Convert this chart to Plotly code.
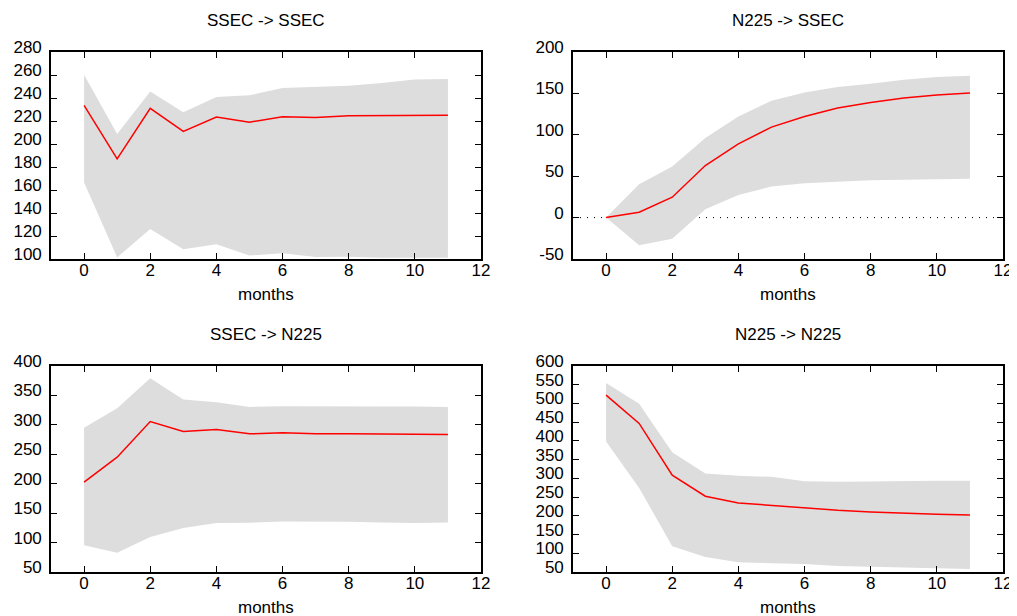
import plotly.graph_objects as go

# ---------------- data ----------------
months = list(range(12))

titles = ["SSEC -> SSEC", "N225 -> SSEC", "SSEC -> N225", "N225 -> N225"]
x_label = "months"

ssec_ssec_mid = [233.5, 187.0, 231.0, 211.0, 223.4, 219.0, 223.7, 223.0, 224.5, 224.5, 225.0, 225.0]
ssec_ssec_hi = [260.3, 208.6, 245.7, 227.5, 240.8, 242.3, 248.6, 249.8, 250.7, 253.0, 256.0, 256.5]
ssec_ssec_lo = [166.5, 101.4, 126.0, 108.4, 112.8, 103.0, 105.0, 101.7, 102.0, 101.0, 101.0, 101.0]

n225_ssec_mid = [0.0, 6.5, 24.6, 62.9, 89.1, 109.3, 122.2, 132.3, 139.1, 144.4, 148.0, 150.4]
n225_ssec_hi = [0.0, 40.3, 61.7, 96.0, 122.2, 141.0, 151.2, 157.7, 161.7, 166.5, 169.8, 171.4]
n225_ssec_lo = [0.0, -33.5, -25.4, 10.1, 27.4, 37.5, 41.5, 43.5, 45.2, 45.6, 46.4, 46.8]

ssec_n225_mid = [202.7, 245.1, 305.6, 288.6, 292.0, 284.7, 286.4, 284.7, 284.7, 284.1, 284.1, 283.5]
ssec_n225_hi = [294.9, 328.2, 379.1, 342.9, 338.4, 330.5, 331.6, 331.0, 331.6, 331.0, 331.0, 330.5]
ssec_n225_lo = [95.3, 82.9, 109.4, 124.7, 133.2, 133.7, 136.0, 136.0, 135.4, 134.3, 133.2, 134.3]

n225_n225_mid = [522.4, 446.7, 308.5, 252.3, 234.5, 227.4, 220.3, 214.9, 210.4, 206.9, 204.2, 202.4]
n225_n225_hi = [554.5, 499.3, 370.0, 313.0, 306.7, 304.0, 292.5, 290.7, 291.6, 293.4, 293.4, 293.4]
n225_n225_lo = [398.5, 274.6, 118.6, 90.1, 75.8, 74.0, 71.4, 66.0, 64.3, 61.6, 59.8, 58.0]

x_range = [-1, 12]
x_ticks = [0, 2, 4, 6, 8, 10, 12]

y_ranges = [[100, 280], [-50, 200], [50, 400], [50, 600]]
y_ticks_1 = [100, 120, 140, 160, 180, 200, 220, 240, 260, 280]
y_ticks_2 = [-50, 0, 50, 100, 150, 200]
y_ticks_3 = [50, 100, 150, 200, 250, 300, 350, 400]
y_ticks_4 = [50, 100, 150, 200, 250, 300, 350, 400, 450, 500, 550, 600]
y_ticks = [y_ticks_1, y_ticks_2, y_ticks_3, y_ticks_4]

series = [
    (ssec_ssec_lo, ssec_ssec_hi, ssec_ssec_mid),
    (n225_ssec_lo, n225_ssec_hi, n225_ssec_mid),
    (ssec_n225_lo, ssec_n225_hi, ssec_n225_mid),
    (n225_n225_lo, n225_n225_hi, n225_n225_mid),
]

# ---------------- layout geometry (pixels, in the browser window) ----------------
OFF = 8                      # default page (body) margin of the html page
W, H = 1017 - OFF, 616 - OFF  # figure size so that it fills the window
col_px = [(51, 481), (573, 1003)]
row_px = [(52, 259), (366, 572)]

FONT = "Liberation Sans, Arial, Helvetica, sans-serif"
FS = 17
BAND = "#dddddd"


def px_x(p):
    return (p - OFF) / W


def px_y(p):
    return 1 - (p - OFF) / H


fig = go.Figure()
layout = dict(
    width=W, height=H,
    margin=dict(l=0, r=0, t=0, b=0, autoexpand=False),
    paper_bgcolor="white", plot_bgcolor="white",
    showlegend=False,
    font=dict(family=FONT, size=FS, color="black"),
    annotations=[], shapes=[],
)

for i, (lo, hi, mid) in enumerate(series):
    r, c = divmod(i, 2)
    n = i + 1
    xa = "x" if n == 1 else f"x{n}"
    ya = "y" if n == 1 else f"y{n}"
    fig.add_trace(go.Scatter(x=months, y=lo, mode="lines", line=dict(width=0, color=BAND),
                             xaxis=xa, yaxis=ya, hoverinfo="skip"))
    fig.add_trace(go.Scatter(x=months, y=hi, mode="lines", line=dict(width=0, color=BAND),
                             fill="tonexty", fillcolor=BAND, xaxis=xa, yaxis=ya, hoverinfo="skip"))
    fig.add_trace(go.Scatter(x=months, y=mid, mode="lines", line=dict(width=1.5, color="#ff0000"),
                             xaxis=xa, yaxis=ya))

    x0, x1 = col_px[c]
    y0, y1 = row_px[r]
    common = dict(showline=True, linecolor="black", linewidth=1.6, mirror="ticks",
                  ticks="inside", ticklen=6, tickwidth=1, tickcolor="black",
                  showgrid=False, zeroline=False, automargin=False,
                  tickfont=dict(family=FONT, size=FS, color="black"))
    layout["xaxis" if n == 1 else f"xaxis{n}"] = dict(
        common, domain=[px_x(x0), px_x(x1)], range=x_range,
        tickmode="array", tickvals=x_ticks, ticktext=[str(v) for v in x_ticks],
        anchor=ya, ticklabelstandoff=-5)
    layout["yaxis" if n == 1 else f"yaxis{n}"] = dict(
        common, domain=[px_y(y1), px_y(y0)], range=y_ranges[i],
        tickmode="array", tickvals=y_ticks[i], ticktext=[str(v) for v in y_ticks[i]],
        anchor=xa, ticklabelshift=-5, ticklabelstandoff=4)

    cx = px_x((x0 + x1) / 2)
    layout["annotations"].append(dict(text=titles[i], xref="paper", yref="paper",
                                      x=cx, y=px_y(y0 - 32), xanchor="center",
                                      yanchor="middle", showarrow=False,
                                      font=dict(family=FONT, size=FS, color="black")))
    layout["annotations"].append(dict(text=x_label, xref="paper", yref="paper",
                                      x=cx, y=px_y(y1 + 35), xanchor="center",
                                      yanchor="middle", showarrow=False,
                                      font=dict(family=FONT, size=FS, color="black")))

# dotted zero line in the N225 -> SSEC panel (under the band)
layout["shapes"].append(dict(type="line", xref="x2 domain", x0=0, x1=1, yref="y2", y0=0, y1=0,
                             line=dict(color="black", width=1, dash="1px,6px"), layer="below"))

fig.update_layout(**layout)
fig.write_html("out.html")
